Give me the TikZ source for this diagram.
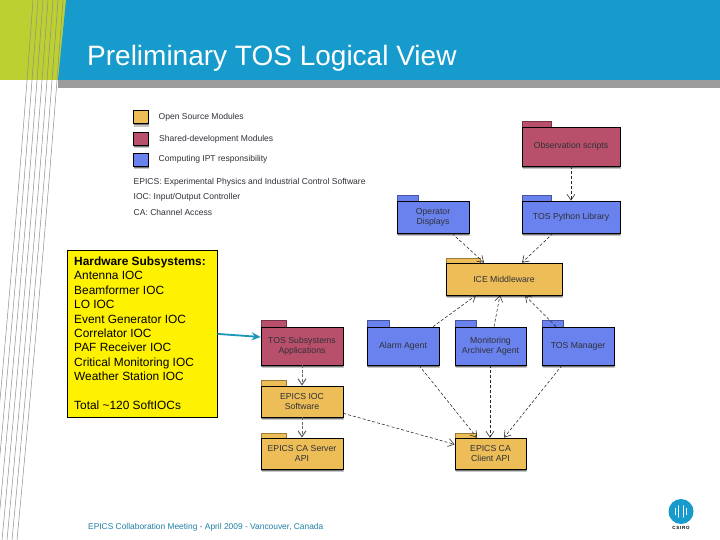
\documentclass[tikz,border=0pt]{standalone}
\usepackage{fontspec}
\setmainfont{Liberation Sans}
\usetikzlibrary{arrows.meta,shadows}
\definecolor{hdrblue}{HTML}{169BCC}
\definecolor{hdrgreen}{HTML}{BDD032}
\definecolor{hdrgrey}{HTML}{9C9C9C}
\definecolor{foldyel}{HTML}{EDBE58}
\definecolor{foldred}{HTML}{B8506B}
\definecolor{foldblu}{HTML}{6A82EE}
\definecolor{teal1}{HTML}{1A96B8}
\definecolor{foot}{HTML}{1F7FA5}
\definecolor{txt}{HTML}{303038}
\tikzset{
  x=1pt,y=-1pt,
  softshadow/.style={general shadow={shadow xshift=0.5pt,shadow yshift=-3.2pt,opacity=0.22,fill=black},
                     general shadow={shadow xshift=0.3pt,shadow yshift=-1.8pt,opacity=0.4,fill=black}},
  folderbody/.style={draw=black,line width=0.7pt,inner sep=0pt,align=center,
    font=\fontsize{8.7}{10}\selectfont,text=txt,softshadow},
  dep/.style={densely dashed,line width=0.55pt,draw=black!85,-{Straight Barb[length=6pt,width=8pt]}},
  depthick/.style={dash pattern=on 3pt off 1.5pt,line width=1pt,draw=black!60,-{Straight Barb[length=6pt,width=8pt]}},
  legbox/.style={draw=black,line width=0.8pt,minimum width=15pt,minimum height=13pt,inner sep=0pt,softshadow},
  legtext/.style={anchor=west,inner sep=0pt,font=\fontsize{8.55}{10}\selectfont,text=txt},
  deco/.style={draw=black!45,line width=0.5pt},
}
% name, colour, x1, x2, tab-right, tab-top, body-top, bottom, text
\newcommand{\folderpkg}[9]{%
  \pgfmathsetmacro{\fw}{#4-#3}\pgfmathsetmacro{\fh}{#8-#7}%
  \pgfmathsetmacro{\fcx}{(#3+#4)/2}\pgfmathsetmacro{\fcy}{(#7+#8)/2}%
  \filldraw[fill=#2,draw=#2!65!black,line width=0.5pt] (#3,#7) -- (#3,#6) -- (#5,#6) -- (#5,#7) -- cycle;
  \node[folderbody,fill=#2,minimum width=\fw pt,minimum height=\fh pt] (#1) at (\fcx,\fcy) {#9};
}
\begin{document}
\begin{tikzpicture}
\useasboundingbox (0,0) rectangle (720,540);
\fill[white] (0,0) rectangle (720,540);
% header
\fill[hdrgreen] (0,0) -- (67,0) -- (59,80) -- (0,80) -- cycle;
\fill[hdrblue] (66,0) -- (720,0) -- (720,80) -- (58,80) -- cycle;
\fill[hdrgrey] (58,80) rectangle (720,88);
\foreach \i in {0,...,6}{
  \draw[deco] ({33+5*\i},0) .. controls ({20+5*\i},180) and ({4+5*\i},360) .. ({-13+5*\i},540);
}
\node[anchor=west,inner sep=0pt,text=white,font=\fontsize{28}{32}\selectfont] (title) at (87,58) {Preliminary TOS Logical View};
% legend
\node[legbox,fill=foldyel] (l1) at (141,117) {};
\node[legbox,fill=foldred] (l2) at (141,138.5) {};
\node[legbox,fill=foldblu] (l3) at (141,159.5) {};
\node[legtext] (t1) at (158.5,117) {Open Source Modules};
\node[legtext] (t2) at (159,139.5) {Shared-development Modules};
\node[legtext] (t3) at (158.5,159) {Computing IPT responsibility};
\node[legtext] (t4) at (133.5,182) {EPICS: Experimental Physics and Industrial Control Software};
\node[legtext] (t5) at (133.5,197) {IOC: Input/Output Controller};
\node[legtext] (t6) at (133.5,212) {CA: Channel Access};
% folders
\folderpkg{obs}{foldred}{522}{620}{551}{121}{127}{166}{Observation scripts}
\folderpkg{py}{foldblu}{522}{620}{551}{195}{201}{233}{TOS Python Library}
\folderpkg{op}{foldblu}{397}{469}{418}{195}{201}{233}{Operator\\Displays}
\folderpkg{ice}{foldyel}{446}{562}{480}{258}{263}{295}{ICE Middleware}
\folderpkg{sub}{foldred}{261}{343}{286}{320}{327}{365}{TOS Subsystems\\Applications}
\folderpkg{ioc}{foldyel}{261}{343}{286}{380}{386}{417}{EPICS IOC\\Software}
\folderpkg{srv}{foldyel}{261}{343}{286}{433}{438}{469}{EPICS CA Server\\API}
\folderpkg{alarm}{foldblu}{367}{439}{389}{320}{327}{365}{Alarm Agent}
\folderpkg{mon}{foldblu}{455}{526}{476}{320}{327}{365}{Monitoring\\Archiver Agent}
\folderpkg{mgr}{foldblu}{542}{614}{563}{320}{327}{365}{TOS Manager}
\folderpkg{cli}{foldyel}{455}{526}{476}{433}{438}{469}{EPICS CA\\Client API}
% yellow box
\node[draw=black,line width=0.8pt,fill=yellow,anchor=north west,inner sep=0pt,
  minimum width=150pt,minimum height=167pt] (hw) at (66.7,250) {};
\node[anchor=north west,inner sep=0pt,align=left,font=\fontsize{11.9}{14.35}\selectfont] (hwt) at (74,256.8)
 {\textbf{Hardware Subsystems:}\\Antenna IOC\\Beamformer IOC\\LO IOC\\Event Generator IOC\\Correlator IOC\\PAF Receiver IOC\\Critical Monitoring IOC\\Weather Station IOC\\[14.35pt]Total \textasciitilde120 SoftIOCs};
% connectors
\draw[dep] (obs.south) -- (py.north);
\draw[dep] ([xshift=-18pt]py.south) -- ([xshift=18pt]ice.north);
\draw[dep] ([xshift=19pt]op.south) -- ([xshift=-20pt]ice.north);
\draw[dep] ([xshift=30pt]alarm.north) -- ([xshift=-28pt]ice.south);
\draw[dep] ([xshift=3.5pt]mon.north) -- ([xshift=-4pt]ice.south);
\draw[dep] ([xshift=-22pt]mgr.north) -- ([xshift=21pt]ice.south);
\draw[dep] ([xshift=16pt]alarm.south) -- ([xshift=-13.5pt]cli.north);
\draw[dep] ([xshift=-0.5pt]mon.south) -- ([xshift=-0.5pt]cli.north);
\draw[dep] ([xshift=-16pt]mgr.south) -- ([xshift=13.5pt]cli.north);
\draw[dep] ([yshift=4pt]ioc.south east) -- ([yshift=25pt]cli.south west);
\draw[depthick] (sub.south) -- (ioc.north);
\draw[depthick] (ioc.south) -- (srv.north);
\draw[teal1,line width=1.8pt,-{Stealth[length=9pt,width=8pt]}] (hw.east) -- ([yshift=9pt]sub.west);
% footer
\node[anchor=west,inner sep=0pt,text=foot,font=\fontsize{8.4}{10}\selectfont] (foottext) at (88,527) {EPICS Collaboration Meeting - April 2009 - Vancouver, Canada};
% logo
\node[circle,fill=hdrblue,minimum size=25pt,inner sep=0pt] (logo) at (681,511.5) {};
\foreach \dx/\h in {-5.5/3,-2.2/5.5,2.2/5.5,5.5/3}{
  \draw[white,line width=1.3pt,line cap=round] (681+\dx,511.5-\h) -- (681+\dx,511.5+\h);
}
\node[anchor=center,inner sep=0pt,font=\bfseries\fontsize{4.5}{5}\selectfont,text=black] (csiro) at (681,527.5) {C\,S\,I\,R\,O};
\end{tikzpicture}
\end{document}
